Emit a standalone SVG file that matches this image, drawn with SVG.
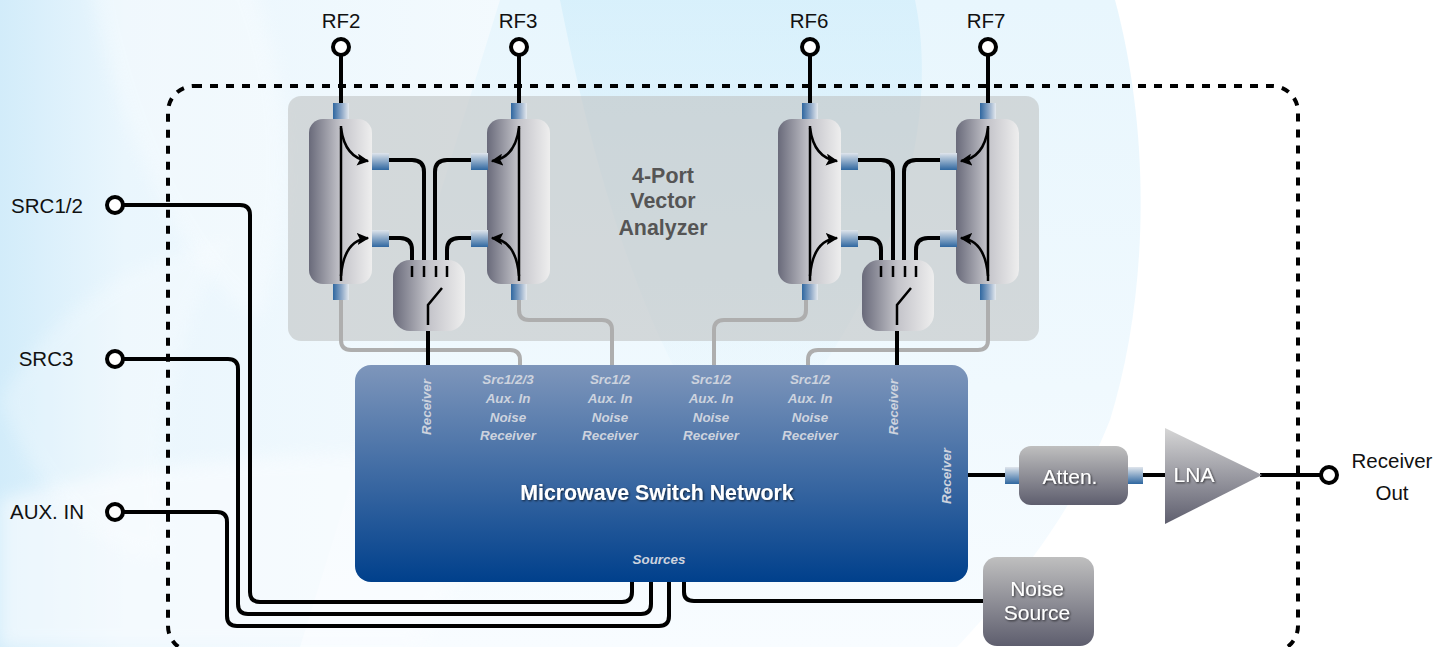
<svg xmlns="http://www.w3.org/2000/svg" width="1452" height="647" viewBox="0 0 1452 647">
<defs>
<linearGradient id="sw1" x1="0" y1="0" x2="0" y2="1"><stop offset="0" stop-color="#e8f6fd"/><stop offset=".6" stop-color="#f0f9fe"/><stop offset="1" stop-color="#f8fcff"/></linearGradient>
<linearGradient id="sw2" x1="0" y1="0" x2="0" y2="1"><stop offset="0" stop-color="#d2eefb" stop-opacity=".9"/><stop offset=".7" stop-color="#d8f0fb" stop-opacity=".3"/><stop offset="1" stop-color="#e8f6fd" stop-opacity="0"/></linearGradient>
<linearGradient id="left" x1="0" y1="0" x2="1" y2="0"><stop offset="0" stop-color="#d2ecfa"/><stop offset=".2" stop-color="#eaf6fd"/><stop offset="1" stop-color="#f6fbfe"/></linearGradient>
<linearGradient id="chrome" x1="0" y1="0" x2="1" y2="0"><stop offset="0" stop-color="#696a7a"/><stop offset=".5" stop-color="#c4c4ca"/><stop offset="1" stop-color="#eeeeee"/></linearGradient>
<linearGradient id="grey" x1="0" y1="0" x2="0" y2="1"><stop offset="0" stop-color="#bfbfbf"/><stop offset="1" stop-color="#5e5e6e"/></linearGradient>
<linearGradient id="tri" x1="0" y1="0" x2="0" y2="1"><stop offset="0" stop-color="#d6d6d6"/><stop offset="1" stop-color="#5e5e6e"/></linearGradient>
<linearGradient id="portH" x1="0" y1="0" x2="1" y2="0"><stop offset="0" stop-color="#2f67a0"/><stop offset=".55" stop-color="#8fa9c8"/><stop offset="1" stop-color="#e4e9ee"/></linearGradient>
<linearGradient id="portV" x1="0" y1="0" x2="0" y2="1"><stop offset="0" stop-color="#dfe5ec"/><stop offset="1" stop-color="#2f67a0"/></linearGradient>
<linearGradient id="net" x1="0" y1="0" x2="0" y2="1"><stop offset="0" stop-color="#7e96bb"/><stop offset="1" stop-color="#00408c"/></linearGradient>
<filter id="sh" x="-20%" y="-40%" width="140%" height="180%"><feDropShadow dx="1" dy="1" stdDeviation="1" flood-color="#000" flood-opacity=".7"/></filter>
<filter id="soft" x="-10%" y="-10%" width="120%" height="120%"><feGaussianBlur stdDeviation="8"/></filter>
<marker id="ah" viewBox="0 0 10 10" refX="9" refY="5" markerWidth="12" markerHeight="12" markerUnits="userSpaceOnUse" orient="auto"><path d="M0 0L10 5L0 10L2 5z" fill="#000"/></marker>
<g id="coupler">
<rect class="ph" x="-8" y="0" width="16" height="17"/>
<rect class="ph" x="-8" y="180" width="16" height="17"/>
<rect x="-32" y="16" width="63" height="165" rx="14" fill="url(#chrome)"/>
<path class="thin" d="M0 23V178"/>
</g>
</defs>
<style>
text{font-family:"Liberation Sans",Arial,sans-serif}
.lab{font-size:20.5px;fill:#111;text-anchor:middle}
.w{fill:none;stroke:#000;stroke-width:4}
.g{fill:none;stroke:#aeaeae;stroke-width:4}
.thin{fill:none;stroke:#000;stroke-width:2.5}
.port{fill:#fff;stroke:#000;stroke-width:4}
.ph{fill:url(#portH)}
.pv{fill:url(#portV)}
.sm{font-size:13.4px;font-weight:bold;font-style:italic;fill:#cdd3de;text-anchor:middle}
.box{font-size:21px;fill:#fff;text-anchor:middle;filter:url(#sh)}
.ana{font-size:21.4px;font-weight:bold;fill:#555;text-anchor:middle}
</style>
<g id="background">
<rect width="1452" height="647" fill="#fff"/>
<rect width="620" height="647" fill="url(#left)"/>
<path d="M1115 0C1150 130 1150 290 1110 420C1070 520 1010 590 957 647H300L500 0Z" fill="url(#sw1)"/>
<path d="M560 0H915C940 120 900 300 740 470C640 350 590 150 560 0Z" fill="url(#sw2)" opacity=".8"/>
<path d="M0 647V500C100 470 300 440 560 460C500 520 440 590 420 647Z" fill="#fbfdff" opacity=".6" filter="url(#soft)"/>
<path d="M90 -20H250C290 80 300 200 260 320C190 280 120 150 90 -20Z" fill="#fff" opacity=".3" filter="url(#soft)"/>
<path d="M0 400C60 300 130 260 230 240C170 340 150 450 170 560C100 560 40 500 0 400Z" fill="#fff" opacity=".25" filter="url(#soft)"/>
</g>
<g id="boundary"><rect x="168" y="86" width="1130" height="566" rx="26" fill="none" stroke="#000" stroke-width="4" stroke-dasharray="8 8"/></g>
<g id="analyzer-panel"><rect x="288" y="96" width="751" height="245" rx="13" fill="#bfc3c3" fill-opacity=".6"/>
<text class="ana" x="663" y="183">4-Port</text><text class="ana" x="663" y="208">Vector</text><text class="ana" x="663" y="235">Analyzer</text></g>
<g id="connectors">
<path class="g" d="M341 300V340Q341 350 351 350H510Q520 350 520 360V366"/>
<path class="g" d="M519 300V310Q519 320 529 320H602Q612 320 612 330V366"/>
<path class="g" d="M714 366V330Q714 320 724 320H796Q806 320 806 310V300"/>
<path class="g" d="M988 300V340Q988 350 978 350H818Q808 350 808 360V366"/>
<path class="w" d="M341 55V103M519 55V103M810 55V103M988 55V103"/>
<path class="w" d="M389 160H412Q424 160 424 172V262M471 160H447Q435 160 435 172V262M389 238H400Q412 238 412 250V262M471 238H459Q447 238 447 250V262"/>
<path class="w" d="M858 160H881Q893 160 893 172V262M940 160H916Q904 160 904 172V262M858 238H869Q881 238 881 250V262M940 238H928Q916 238 916 250V262"/>
<path class="w" d="M428 331V366M897 331V366"/>
<path class="w" d="M123 205H240Q250 205 250 215V592Q250 602 260 602H622Q632 602 632 592V582"/>
<path class="w" d="M123 359H228Q238 359 238 369V604Q238 614 248 614H641Q651 614 651 604V582"/>
<path class="w" d="M123 512H217Q227 512 227 522V616Q227 626 237 626H659Q669 626 669 616V582"/>
<path class="w" d="M684 582V592Q684 601 694 601H984"/>
<path class="w" d="M968 475H1005M1142 475H1166M1260 475H1321"/>
</g>
<g id="coupler-a"><use href="#coupler" x="341" y="103"/>
<path class="thin" marker-end="url(#ah)" d="M341 128Q345 158 368 161"/><path class="thin" marker-end="url(#ah)" d="M341 276Q344 240 368 238"/>
<rect class="pv" x="372" y="153" width="17" height="17"/><rect class="pv" x="372" y="230" width="17" height="17"/></g>
<g id="coupler-b"><use href="#coupler" x="519" y="103"/>
<path class="thin" marker-end="url(#ah)" d="M519 128Q515 158 492 161"/><path class="thin" marker-end="url(#ah)" d="M519 276Q516 240 492 238"/>
<rect class="pv" x="471" y="153" width="17" height="17"/><rect class="pv" x="471" y="230" width="17" height="17"/></g>
<g id="coupler-c"><use href="#coupler" x="810" y="103"/>
<path class="thin" marker-end="url(#ah)" d="M810 128Q814 158 837 161"/><path class="thin" marker-end="url(#ah)" d="M810 276Q813 240 837 238"/>
<rect class="pv" x="841" y="153" width="17" height="17"/><rect class="pv" x="841" y="230" width="17" height="17"/></g>
<g id="coupler-d"><use href="#coupler" x="988" y="103"/>
<path class="thin" marker-end="url(#ah)" d="M988 128Q984 158 961 161"/><path class="thin" marker-end="url(#ah)" d="M988 276Q985 240 961 238"/>
<rect class="pv" x="940" y="153" width="17" height="17"/><rect class="pv" x="940" y="230" width="17" height="17"/></g>
<g id="switch-a"><rect x="393" y="260" width="72" height="71" rx="17" fill="url(#chrome)"/><path class="thin" d="M412 266V277M424 266V277M436 266V277M447 266V277M428 325V305L442 288"/></g>
<g id="switch-b"><rect x="862" y="260" width="72" height="71" rx="17" fill="url(#chrome)"/><path class="thin" d="M881 266V277M893 266V277M905 266V277M916 266V277M897 325V305L911 288"/></g>
<g id="switch-network"><rect x="355" y="365" width="613" height="217" rx="16" fill="url(#net)"/>
<text class="box" style="font-weight:bold;font-size:21.3px" x="657" y="500">Microwave Switch Network</text>
<text class="sm" transform="translate(431 407) rotate(-90)">Receiver</text>
<text class="sm" transform="translate(898 407) rotate(-90)">Receiver</text>
<text class="sm" transform="translate(951 476) rotate(-90)">Receiver</text>
<text class="sm" x="659" y="564">Sources</text>
<text class="sm" x="508" y="384">Src1/2/3</text><text class="sm" x="508" y="403">Aux. In</text><text class="sm" x="508" y="422">Noise</text><text class="sm" x="508" y="440">Receiver</text>
<text class="sm" x="610" y="384">Src1/2</text><text class="sm" x="610" y="403">Aux. In</text><text class="sm" x="610" y="422">Noise</text><text class="sm" x="610" y="440">Receiver</text>
<text class="sm" x="711" y="384">Src1/2</text><text class="sm" x="711" y="403">Aux. In</text><text class="sm" x="711" y="422">Noise</text><text class="sm" x="711" y="440">Receiver</text>
<text class="sm" x="810" y="384">Src1/2</text><text class="sm" x="810" y="403">Aux. In</text><text class="sm" x="810" y="422">Noise</text><text class="sm" x="810" y="440">Receiver</text></g>
<g id="atten"><rect class="pv" x="1005" y="467" width="15" height="17"/><rect class="pv" x="1128" y="467" width="15" height="17"/><rect x="1019" y="446" width="109" height="59" rx="12" fill="url(#grey)"/><text class="box" x="1070" y="484">Atten.</text></g>
<g id="lna"><path d="M1165 428L1262 475L1165 524Z" fill="url(#tri)"/><text class="box" x="1194" y="482">LNA</text></g>
<g id="noise-source"><rect x="983" y="557" width="111" height="89" rx="14" fill="url(#grey)"/><text class="box" x="1037" y="596">Noise</text><text class="box" x="1037" y="620">Source</text></g>
<g id="rf2"><circle class="port" cx="341" cy="47" r="8"/><text class="lab" x="341" y="28">RF2</text></g>
<g id="rf3"><circle class="port" cx="519" cy="47" r="8"/><text class="lab" x="518" y="28">RF3</text></g>
<g id="rf6"><circle class="port" cx="810" cy="47" r="8"/><text class="lab" x="809" y="28">RF6</text></g>
<g id="rf7"><circle class="port" cx="988" cy="47" r="8"/><text class="lab" x="986" y="28">RF7</text></g>
<g id="src12"><circle class="port" cx="115" cy="205" r="8"/><text class="lab" x="47" y="213">SRC1/2</text></g>
<g id="src3"><circle class="port" cx="115" cy="359" r="8"/><text class="lab" x="46" y="366">SRC3</text></g>
<g id="aux-in"><circle class="port" cx="115" cy="512" r="8"/><text class="lab" x="47" y="519">AUX. IN</text></g>
<g id="receiver-out"><circle class="port" cx="1329" cy="475" r="8"/><text class="lab" x="1392" y="468">Receiver</text><text class="lab" x="1392" y="500">Out</text></g>
</svg>
